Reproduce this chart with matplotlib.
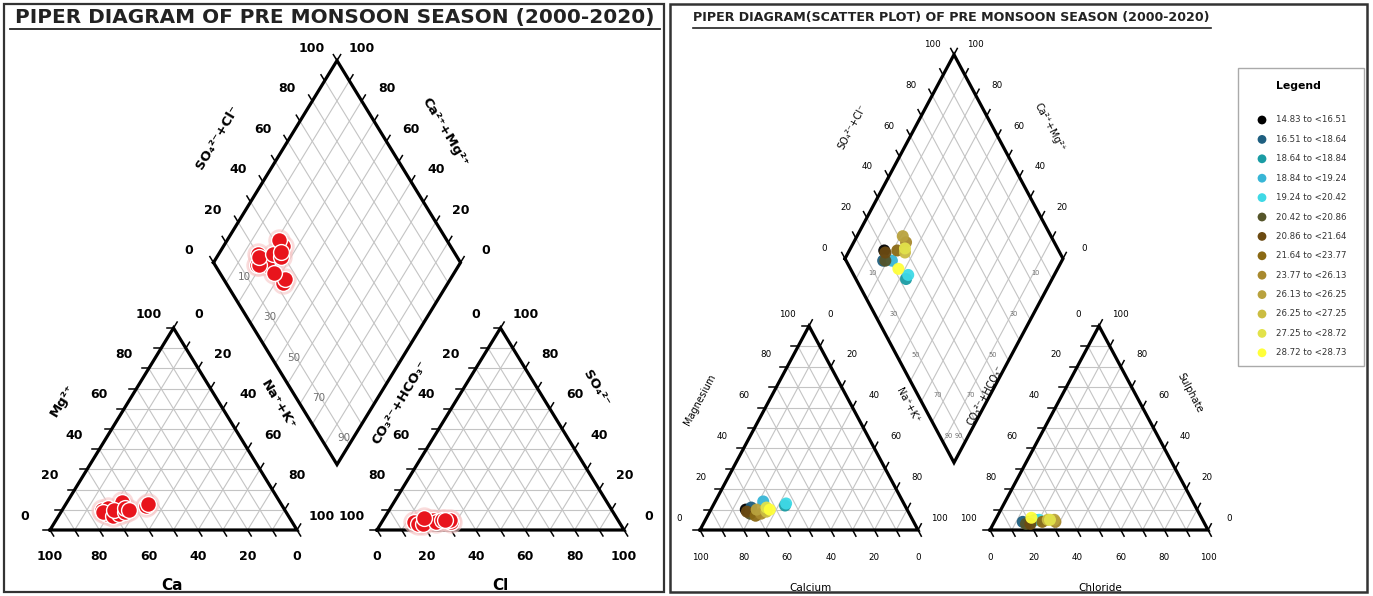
import numpy as np
import matplotlib
matplotlib.use("Agg")
import matplotlib.pyplot as plt
from matplotlib.patches import Rectangle

# ---------------- data ----------------
class_labels = ["14.83 to <16.51", "16.51 to <18.64", "18.64 to <18.84", "18.84 to <19.24",
                "19.24 to <20.42", "20.42 to <20.86", "20.86 to <21.64", "21.64 to <23.77",
                "23.77 to <26.13", "26.13 to <26.25", "26.25 to <27.25", "27.25 to <28.72",
                "28.72 to <28.73"]
class_colors = ["#000000", "#1f5f80", "#1a9ca4", "#38b6d6", "#3fd9e6", "#55552a", "#6b4a12",
                "#8a6914", "#a8892e", "#b9a23e", "#cbbd42", "#e2e24a", "#ffff3a"]
# cations (% meq)
ca  = [74, 71, 55, 64, 54, 73, 74, 71, 68, 69, 65, 64, 63]
mg  = [10, 11, 12, 14, 13,  8,  9,  7,  8, 10,  9, 11, 10]
nak = [16, 18, 33, 22, 33, 19, 17, 22, 24, 21, 26, 25, 27]
# anions (% meq)
hco3 = [80, 83, 77, 79, 75, 82, 80, 74, 68, 68, 71, 70, 78]
cl   = [16, 13, 18, 17, 20, 15, 17, 22, 28, 27, 24, 25, 16]
so4  = [ 4,  4,  5,  4,  5,  3,  3,  4,  4,  5,  5,  5,  6]

tick_values = [0, 20, 40, 60, 80, 100]
inner_values = [10, 30, 50, 70, 90]

left_title = "PIPER DIAGRAM OF PRE MONSOON SEASON (2000-2020)"
right_title = "PIPER DIAGRAM(SCATTER PLOT) OF PRE MONSOON SEASON (2000-2020)"

# ---------------- figure ----------------
fig = plt.figure(figsize=(13.73, 5.96), dpi=100)
ax = fig.add_axes([0, 0, 1, 1])
ax.set_xlim(0, 1373)
ax.set_ylim(596, 0)
ax.axis("off")

GRID = "#c4c4c4"


def tri_pt(v_bl, v_br, v_ap, f_br, f_ap):
    v_bl, v_br, v_ap = map(np.asarray, (v_bl, v_br, v_ap))
    return v_bl + f_br * (v_br - v_bl) + f_ap * (v_ap - v_bl)


def unit(v):
    v = np.asarray(v, float)
    return v / np.hypot(*v)


def draw_triangle(bl, br, ap, tl=7):
    bl, br, ap = map(np.asarray, (bl, br, ap))
    for k in range(1, 10):
        f = k / 10
        p = [tri_pt(bl, br, ap, 0, f), tri_pt(bl, br, ap, 1 - f, f)]
        ax.plot([p[0][0], p[1][0]], [p[0][1], p[1][1]], color=GRID, lw=0.8, zorder=1)
        p = [tri_pt(bl, br, ap, f, 0), tri_pt(bl, br, ap, f, 1 - f)]
        ax.plot([p[0][0], p[1][0]], [p[0][1], p[1][1]], color=GRID, lw=0.8, zorder=1)
        p = [tri_pt(bl, br, ap, 1 - f, 0), tri_pt(bl, br, ap, 0, 1 - f)]
        ax.plot([p[0][0], p[1][0]], [p[0][1], p[1][1]], color=GRID, lw=0.8, zorder=1)
    ax.plot([bl[0], br[0], ap[0], bl[0]], [bl[1], br[1], ap[1], bl[1]],
            color="black", lw=2.3, zorder=3, solid_joinstyle="miter")
    dl = unit(bl - br)
    dr = unit(ap - bl)
    db = unit(br - ap)
    for k in range(11):
        f = k / 10
        for p, d in ((tri_pt(bl, br, ap, 0, f), dl),
                     (tri_pt(bl, br, ap, 1 - f, f), dr),
                     (tri_pt(bl, br, ap, f, 0), db)):
            ax.plot([p[0], p[0] + tl * d[0]], [p[1], p[1] + tl * d[1]],
                    color="black", lw=1.1, zorder=3)


def draw_diamond(L, T, R, B, tl=7):
    L, T, R, B = map(np.asarray, (L, T, R, B))
    for k in range(1, 10):
        f = k / 10
        p0 = L + f * (T - L); p1 = B + f * (R - B)
        ax.plot([p0[0], p1[0]], [p0[1], p1[1]], color=GRID, lw=0.8, zorder=1)
        p0 = L + f * (B - L); p1 = T + f * (R - T)
        ax.plot([p0[0], p1[0]], [p0[1], p1[1]], color=GRID, lw=0.8, zorder=1)
    ax.plot([L[0], T[0], R[0], B[0], L[0]], [L[1], T[1], R[1], B[1], L[1]],
            color="black", lw=2.3, zorder=3, solid_joinstyle="miter")
    dul = unit(L - B)
    dur = unit(T - L)
    for k in range(11):
        f = k / 10
        for p, d in ((L + f * (T - L), dul), (T + f * (R - T), dur)):
            ax.plot([p[0], p[0] + tl * d[0]], [p[1], p[1] + tl * d[1]],
                    color="black", lw=1.1, zorder=3)


def piper(x0, W, H, gap, yb, s, lab_fs, lab_bold, names, name_fs, name_bold,
          name_pos, inner_labels_right):
    x1 = x0 + W + gap
    c_bl, c_br, c_ap = (x0, yb), (x0 + W, yb), (x0 + W / 2, yb - H)
    a_bl, a_br, a_ap = (x1, yb), (x1 + W, yb), (x1 + W / 2, yb - H)
    xm = x0 + W + gap / 2
    hB = gap * H / W
    B = np.array([xm, yb - hB]); L = B + [-W / 2, -H]
    R = B + [W / 2, -H]; T = B + [0, -2 * H]
    draw_triangle(c_bl, c_br, c_ap)
    draw_triangle(a_bl, a_br, a_ap)
    draw_diamond(L, T, R, B)

    fw = "bold" if lab_bold else "normal"
    ox, oy = 25 * s, 14 * s
    for v in tick_values:
        f = v / 100
        p = tri_pt(c_bl, c_br, c_ap, 0, f)
        ax.text(p[0] - ox, p[1] - oy, str(v), fontsize=lab_fs, fontweight=fw, ha="center", va="center")
        p = tri_pt(c_bl, c_br, c_ap, f, 1 - f)
        ax.text(p[0] + ox, p[1] - oy, str(v), fontsize=lab_fs, fontweight=fw, ha="center", va="center")
        p = tri_pt(c_bl, c_br, c_ap, 1 - f, 0)
        ax.text(p[0], p[1] + 27, str(v), fontsize=lab_fs, fontweight=fw, ha="center", va="center")
        p = tri_pt(a_bl, a_br, a_ap, 0, 1 - f)
        ax.text(p[0] - ox, p[1] - oy, str(v), fontsize=lab_fs, fontweight=fw, ha="center", va="center")
        p = tri_pt(a_bl, a_br, a_ap, 1 - f, f)
        ax.text(p[0] + ox, p[1] - oy, str(v), fontsize=lab_fs, fontweight=fw, ha="center", va="center")
        p = tri_pt(a_bl, a_br, a_ap, f, 0)
        ax.text(p[0], p[1] + 27, str(v), fontsize=lab_fs, fontweight=fw, ha="center", va="center")
        p = L + f * (T - L)
        ax.text(p[0] - ox, p[1] - 12 * s, str(v), fontsize=lab_fs, fontweight=fw, ha="center", va="center")
        p = R + f * (T - R)
        ax.text(p[0] + ox, p[1] - 12 * s, str(v), fontsize=lab_fs, fontweight=fw, ha="center", va="center")
    for v in inner_values:
        f = v / 100
        p = L + f * (B - L)
        ax.text(p[0] + 19 * s, p[1] - 6, str(v), fontsize=lab_fs - 1.5, color="#707070",
                ha="center", va="center", zorder=2)
        if inner_labels_right:
            p = R + f * (B - R)
            ax.text(p[0] - 19 * s, p[1] - 6, str(v), fontsize=lab_fs - 1.5, color="#707070",
                    ha="center", va="center", zorder=2)

    nw = "bold" if name_bold else "normal"
    for txt, fs, (px, py, rot) in zip(names, name_fs, name_pos):
        ax.text(px, py, txt, fontsize=fs, fontweight=nw, rotation=rot,
                ha="center", va="center", rotation_mode="anchor")

    cx = [tri_pt(c_bl, c_br, c_ap, n / 100, m / 100) for n, m in zip(nak, mg)]
    axy = [tri_pt(a_bl, a_br, a_ap, c / 100, so / 100) for c, so in zip(cl, so4)]
    dx = []
    for n, c, so in zip(nak, cl, so4):
        a = (c + so) / 100
        cc = n / 100
        dx.append(np.array([L[0] + (a + cc) * W / 2, L[1] - a * H + cc * H]))
    return np.array(cx), np.array(axy), np.array(dx)


# ---------------- left panel ----------------
ax.add_patch(Rectangle((4, 4), 660, 588, fill=False, ec="#333333", lw=1.6, zorder=5))
ax.text(335, 18, left_title, fontsize=14.4, fontweight="bold", ha="center", va="center",
        color="#222222")
ax.plot([10, 660], [29, 29], color="#222222", lw=1.3)

left_names = ["Ca", "Cl", "Mg²⁺", "Na⁺+K⁺", "CO₃²⁻+HCO₃⁻", "SO₄²⁻", "SO₄²⁻+Cl⁻", "Ca²⁺+Mg²⁺"]
left_name_fs = [11, 11, 9.5, 9.5, 9.5, 9.5, 9.5, 9.5]
left_name_pos = [(172, 585, 0), (500, 585, 0), (62, 400, 59), (278, 405, -59),
                 (400, 402, 59), (596, 388, -59), (218, 137, 59), (445, 132, -59)]
cxy, axy, dxy = piper(50, 247, 202, 80, 530, 1.0, 9, True, left_names, left_name_fs, True,
                      left_name_pos, False)
for pts in (cxy, axy, dxy):
    ax.scatter(pts[:, 0], pts[:, 1], s=260, color="#f7c6c6", alpha=0.6, lw=0, zorder=6)
    ax.scatter(pts[:, 0], pts[:, 1], s=130, color="#e8141c", edgecolors="white",
               linewidths=1.0, zorder=7)

# ---------------- right panel ----------------
ax.add_patch(Rectangle((670, 4), 697, 588, fill=False, ec="#333333", lw=1.8, zorder=5))
ax.text(693, 18, right_title, fontsize=9.1, fontweight="bold", ha="left", va="center",
        color="#222222")
ax.plot([693, 1211], [28, 28], color="#222222", lw=1.2)

right_names = ["Calcium", "Chloride", "Magnesium", "Na⁺+K⁺", "CO₃²⁻+HCO₃⁻", "Sulphate",
               "SO₄²⁻+Cl⁻", "Ca²⁺+Mg²⁺"]
right_name_fs = [7.5, 7.5, 7, 7, 7, 7, 7, 7]
right_name_pos = [(810, 588, 0), (1100, 588, 0), (700, 400, 62), (908, 405, -62),
                  (985, 395, 62), (1190, 393, -62), (852, 127, 62), (1050, 127, -62)]
cxy2, axy2, dxy2 = piper(700, 218, 204, 72, 530, 0.85, 6.3, False, right_names, right_name_fs,
                         False, right_name_pos, True)
for pts in (cxy2, axy2, dxy2):
    ax.scatter(pts[:, 0], pts[:, 1], s=75, c=class_colors, lw=0, zorder=7, alpha=0.95)

# legend
ax.add_patch(Rectangle((1238, 68), 126, 298, fill=False, ec="#aaaaaa", lw=1.0, zorder=5))
ax.text(1298, 86, "Legend", fontsize=7.8, fontweight="bold", ha="center", va="center")
ly = 120 + 19.4 * np.arange(len(class_labels))
ax.scatter(np.full(len(class_labels), 1262.0), ly, s=40, c=class_colors, lw=0, zorder=7)
for y, t in zip(ly, class_labels):
    ax.text(1276, y, t, fontsize=6.2, ha="left", va="center", color="#333333")

fig.savefig("out.png", dpi=100, facecolor="white")
